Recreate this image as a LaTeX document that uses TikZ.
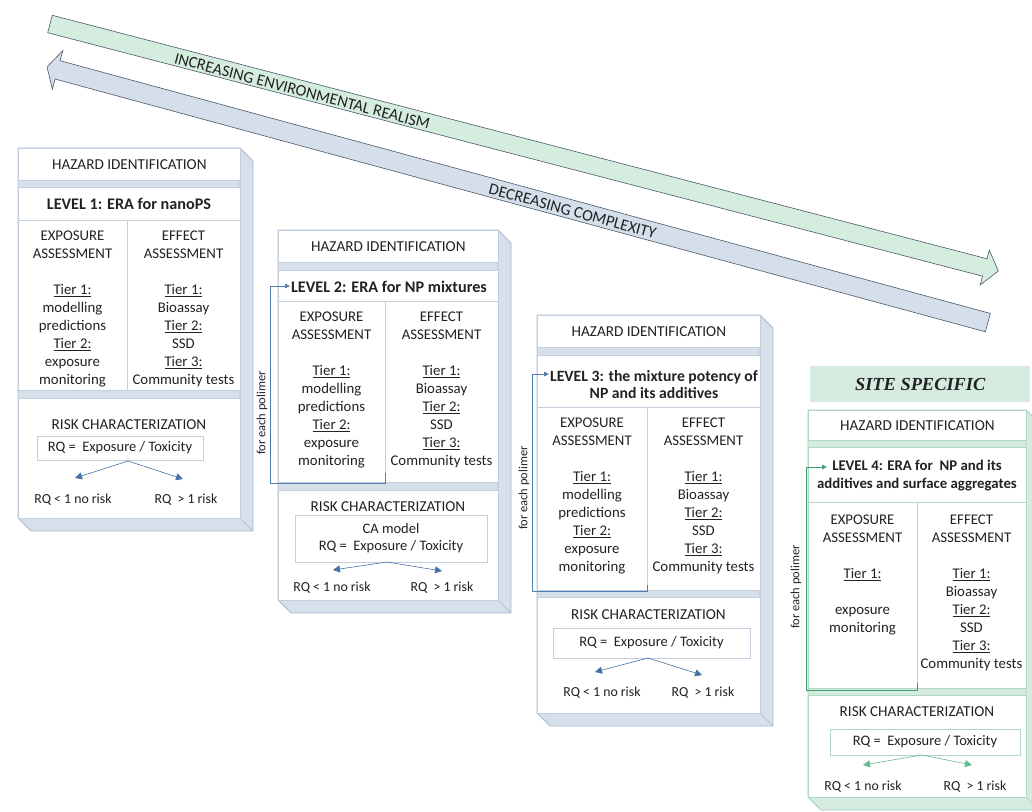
\documentclass[tikz,border=0pt]{standalone}
\usepackage{fontspec}
\setmainfont{Carlito}
\newfontfamily\serifbi{Liberation Serif}
\usetikzlibrary{arrows.meta}
\definecolor{txt}{HTML}{222222}
\definecolor{cubeB}{HTML}{D6DFEA}
\definecolor{cubeBe}{HTML}{A9BBD0}
\definecolor{cubeG}{HTML}{D5EBE0}
\definecolor{cubeGe}{HTML}{9FCDB5}
\definecolor{boxB}{HTML}{C3CFDC}
\definecolor{boxG}{HTML}{B0D8C3}
\definecolor{arrB}{HTML}{4472A4}
\definecolor{arrG}{HTML}{62BD93}
\definecolor{cLoopB}{HTML}{4F7FAE}
\definecolor{cLoopG}{HTML}{3E9E70}
\definecolor{bigG}{HTML}{D5EDDF}
\definecolor{bigB}{HTML}{D5DFEB}
\definecolor{bigE}{HTML}{4A5868}
\newcommand\mycube[6]{%
  \filldraw[fill=#5,draw=#6,line width=0.8pt,line join=round] (#1,#2) -- (#3,#2) -- (#3+13,#2+13) -- (#3+13,#4+13) -- (#1+13,#4+13) -- (#1,#4) -- cycle;
  \draw[#6,line width=0.6pt] (#3,#2) -- (#3,#4) -- (#1,#4) (#3,#4) -- (#3+13,#4+13);}
\tikzset{
  lbl/.style={text=txt, font=\fontsize{15.2}{18}\selectfont, inner sep=0pt},
  ttl/.style={lbl, font=\fontsize{16.2}{17.5}\selectfont\bfseries, align=center},
  col/.style={lbl, font=\fontsize{14.8}{18}\selectfont, align=center, anchor=north},
  wboxB/.style={lbl, draw=boxB, fill=white, line width=0.8pt, anchor=north west},
  wboxG/.style={lbl, draw=boxG, fill=white, line width=0.8pt, anchor=north west},
  rqbox/.style={font=\fontsize{14.5}{17}\selectfont, anchor=center},
  lineB/.style={boxB, line width=0.8pt},
  lineG/.style={boxG, line width=0.8pt},
  bigt/.style={lbl, font=\fontsize{16.2}{18}\selectfont, transform shape},
  rqt/.style={text=txt, font=\fontsize{13.8}{16}\selectfont, inner sep=0pt},
  pol/.style={text=txt, font=\fontsize{12.5}{15}\selectfont, rotate=90, inner sep=0pt},
  rqB/.style={arrB, line width=0.6pt, -{Triangle[length=7pt,width=7pt]}},
  rqG/.style={arrG, line width=0.6pt, -{Triangle[length=7pt,width=7pt]}},
  loopsB/.style={cLoopB, line width=0.8pt, -{Triangle[length=5pt,width=4.5pt]}},
  loopsG/.style={cLoopG, line width=0.8pt, -{Triangle[length=5pt,width=4.5pt]}},
}
\begin{document}
\begin{tikzpicture}[x=1pt,y=-1pt]
\useasboundingbox (0,0) rectangle (1032,811);
\clip (0,0) rectangle (1032,811);
\fill[white] (0,0) rectangle (1032,811);

% big arrows
\begin{scope}[shift={(50,24)}, rotate=-14.6]
  \filldraw[fill=bigG, draw=bigE, line width=0.6pt] (0,-9) -- (966,-9) -- (966,-18) -- (980,0) -- (966,18) -- (966,9) -- (0,9) -- cycle;
  \node[bigt] (incr) at (261,1.5) {INCREASING ENVIRONMENTAL REALISM};
\end{scope}
\begin{scope}[shift={(47,67)}, rotate=-15.2]
  \filldraw[fill=bigB, draw=bigE, line width=0.6pt] (0,0) -- (11,-20) -- (11,-9.5) -- (975,-9.5) -- (975,9.5) -- (11,9.5) -- (11,20) -- cycle;
  \node[bigt] (decr) at (545,1.5) {DECREASING COMPLEXITY};
\end{scope}

% ---------- LEVEL 1 ----------
\mycube{18}{148}{240}{518}{cubeB}{cubeBe}
\node[wboxB, minimum width=222, minimum height=32] (hz1) at (18,148) {HAZARD IDENTIFICATION};
\node[wboxB, minimum width=222, minimum height=203] (lv1) at (18,187) {};
\node[ttl] (t1) at (129,204) {LEVEL 1: ERA for nanoPS};
\draw[lineB] (18,220) -- (240,220) (127,220) -- (127,390);
\node[col] (ex1) at (72.5,231) {EXPOSURE\\ASSESSMENT\\[18pt]\underline{Tier 1:}\\modelling\\predictions\\\underline{Tier 2:}\\exposure\\monitoring};
\node[col] (ef1) at (183.5,231) {EFFECT\\ASSESSMENT\\[18pt]\underline{Tier 1:}\\Bioassay\\\underline{Tier 2:}\\SSD\\\underline{Tier 3:}\\Community tests};
\node[wboxB, minimum width=222, minimum height=120] (rk1) at (18,398) {};
\node[lbl] (rc1) at (129,425) {RISK CHARACTERIZATION};
\node[wboxB, rqbox, minimum width=166, minimum height=24] (rq1) at (120,448) {RQ = \ Exposure / Toxicity};
\coordinate (ap1) at (128,461);
\coordinate (lt1) at (75,478);
\coordinate (rt1) at (183,479);
\draw[rqB] (ap1) -- (lt1);
\draw[rqB] (ap1) -- (rt1);
\node[rqt] (lo1) at (73,500) {RQ < 1 no risk};
\node[rqt] (hi1) at (186,500) {RQ \ > 1 risk};

% ---------- LEVEL 2 ----------
\mycube{278}{230}{498}{600}{cubeB}{cubeBe}
\node[wboxB, minimum width=220, minimum height=32] (hz2) at (278,230) {HAZARD IDENTIFICATION};
\node[wboxB, minimum width=220, minimum height=212] (lv2) at (278,270) {};
\node[ttl] (t2) at (389,287) {LEVEL 2: ERA for NP mixtures};
\draw[lineB] (278,301) -- (498,301) (385,301) -- (385,482);
\node[col] (ex2) at (331.5,312) {EXPOSURE\\ASSESSMENT\\[18pt]\underline{Tier 1:}\\modelling\\predictions\\\underline{Tier 2:}\\exposure\\monitoring};
\node[col] (ef2) at (441.5,312) {EFFECT\\ASSESSMENT\\[18pt]\underline{Tier 1:}\\Bioassay\\\underline{Tier 2:}\\SSD\\\underline{Tier 3:}\\Community tests};
\coordinate (la2) at (385,473);
\coordinate (lb2) at (385,483);
\coordinate (lc2) at (270,483);
\coordinate (ld2) at (270,286);
\coordinate (le2) at (290,286);
\draw[loopsB] (la2) -- (lb2) -- (lc2) -- (ld2) -- (le2);
\node[pol] (p2) at (262,413) {for each polimer};
\node[wboxB, minimum width=220, minimum height=110] (rk2) at (278,490) {};
\node[lbl] (rc2) at (388,507) {RISK CHARACTERIZATION};
\node[wboxB, rqbox, minimum width=192, minimum height=47, align=center] (rq2) at (391,538.5) {CA model\\RQ = \ Exposure / Toxicity};
\coordinate (ap2) at (387,562);
\coordinate (lt2) at (333,570);
\coordinate (rt2) at (442,571);
\draw[rqB] (ap2) -- (lt2);
\draw[rqB] (ap2) -- (rt2);
\node[rqt] (lo2) at (332,588) {RQ < 1 no risk};
\node[rqt] (hi2) at (442,588) {RQ \ > 1 risk};

% ---------- LEVEL 3 ----------
\mycube{537}{315}{760}{713}{cubeB}{cubeBe}
\node[wboxB, minimum width=223, minimum height=32] (hz3) at (537,315) {HAZARD IDENTIFICATION};
\node[wboxB, minimum width=223, minimum height=235] (lv3) at (537,355) {};
\node[ttl, font=\fontsize{15.7}{17.5}\selectfont\bfseries] (t3) at (654,384.5) {LEVEL 3: the mixture potency of\\NP and its additives};
\draw[lineB] (537,407) -- (760,407) (647,407) -- (647,590);
\node[col] (ex3) at (592,418) {EXPOSURE\\ASSESSMENT\\[18pt]\underline{Tier 1:}\\modelling\\predictions\\\underline{Tier 2:}\\exposure\\monitoring};
\node[col] (ef3) at (703.5,418) {EFFECT\\ASSESSMENT\\[18pt]\underline{Tier 1:}\\Bioassay\\\underline{Tier 2:}\\SSD\\\underline{Tier 3:}\\Community tests};
\coordinate (la3) at (647,585);
\coordinate (lb3) at (647,591);
\coordinate (lc3) at (532,591);
\coordinate (ld3) at (532,374);
\coordinate (le3) at (549,374);
\draw[loopsB] (la3) -- (lb3) -- (lc3) -- (ld3) -- (le3);
\node[pol] (p3) at (524,488) {for each polimer};
\node[wboxB, minimum width=223, minimum height=116] (rk3) at (537,597) {};
\node[lbl] (rc3) at (648.5,615) {RISK CHARACTERIZATION};
\node[wboxB, rqbox, minimum width=197, minimum height=30] (rq3) at (651.5,643) {RQ = \ Exposure / Toxicity};
\coordinate (ap3) at (648,658);
\coordinate (lt3) at (595,672);
\coordinate (rt3) at (702,675);
\draw[rqB] (ap3) -- (lt3);
\draw[rqB] (ap3) -- (rt3);
\node[rqt] (lo3) at (602,693) {RQ < 1 no risk};
\node[rqt] (hi3) at (703,693) {RQ \ > 1 risk};

% ---------- LEVEL 4 ----------
\node[fill=cubeG, minimum width=220, minimum height=36, anchor=north west, inner sep=0pt, text=txt, font=\serifbi\fontsize{18.4}{20}\selectfont\bfseries\itshape] (ss) at (810,366) {SITE SPECIFIC};
\mycube{808}{410}{1026}{797}{cubeG}{cubeGe}
\node[wboxG, minimum width=218, minimum height=30] (hz4) at (808,410) {HAZARD IDENTIFICATION};
\node[wboxG, minimum width=218, minimum height=241] (lv4) at (808,447) {};
\node[ttl, font=\fontsize{14.8}{18}\selectfont\bfseries] (t4) at (917,476) {LEVEL 4: ERA for \ NP and its\\additives and surface aggregates};
\draw[lineG] (808,502) -- (1026,502) (917,502) -- (917,688);
\node[col] (ex4) at (862.5,515) {EXPOSURE\\ASSESSMENT\\[18pt]\underline{Tier 1:}\\[18pt]exposure\\monitoring};
\node[col] (ef4) at (971.5,515) {EFFECT\\ASSESSMENT\\[18pt]\underline{Tier 1:}\\Bioassay\\\underline{Tier 2:}\\SSD\\\underline{Tier 3:}\\Community tests};
\coordinate (la4) at (917,683);
\coordinate (lb4) at (917,690);
\coordinate (lc4) at (806,690);
\coordinate (ld4) at (806,467);
\coordinate (le4) at (827,467);
\draw[loopsG] (la4) -- (lb4) -- (lc4) -- (ld4) -- (le4);
\node[pol] (p4) at (796,587) {for each polimer};
\node[wboxG, minimum width=218, minimum height=102] (rk4) at (808,695) {};
\node[lbl] (rc4) at (917,712) {RISK CHARACTERIZATION};
\node[wboxG, rqbox, minimum width=190, minimum height=26] (rq4) at (925,742) {RQ = \ Exposure / Toxicity};
\coordinate (ap4) at (922,755);
\coordinate (lt4) at (863,765);
\coordinate (rt4) at (972,765);
\draw[rqG] (ap4) -- (lt4);
\draw[rqG] (ap4) -- (rt4);
\node[rqt] (lo4) at (863,787) {RQ < 1 no risk};
\node[rqt] (hi4) at (975,787) {RQ \ > 1 risk};
\end{tikzpicture}
\end{document}
